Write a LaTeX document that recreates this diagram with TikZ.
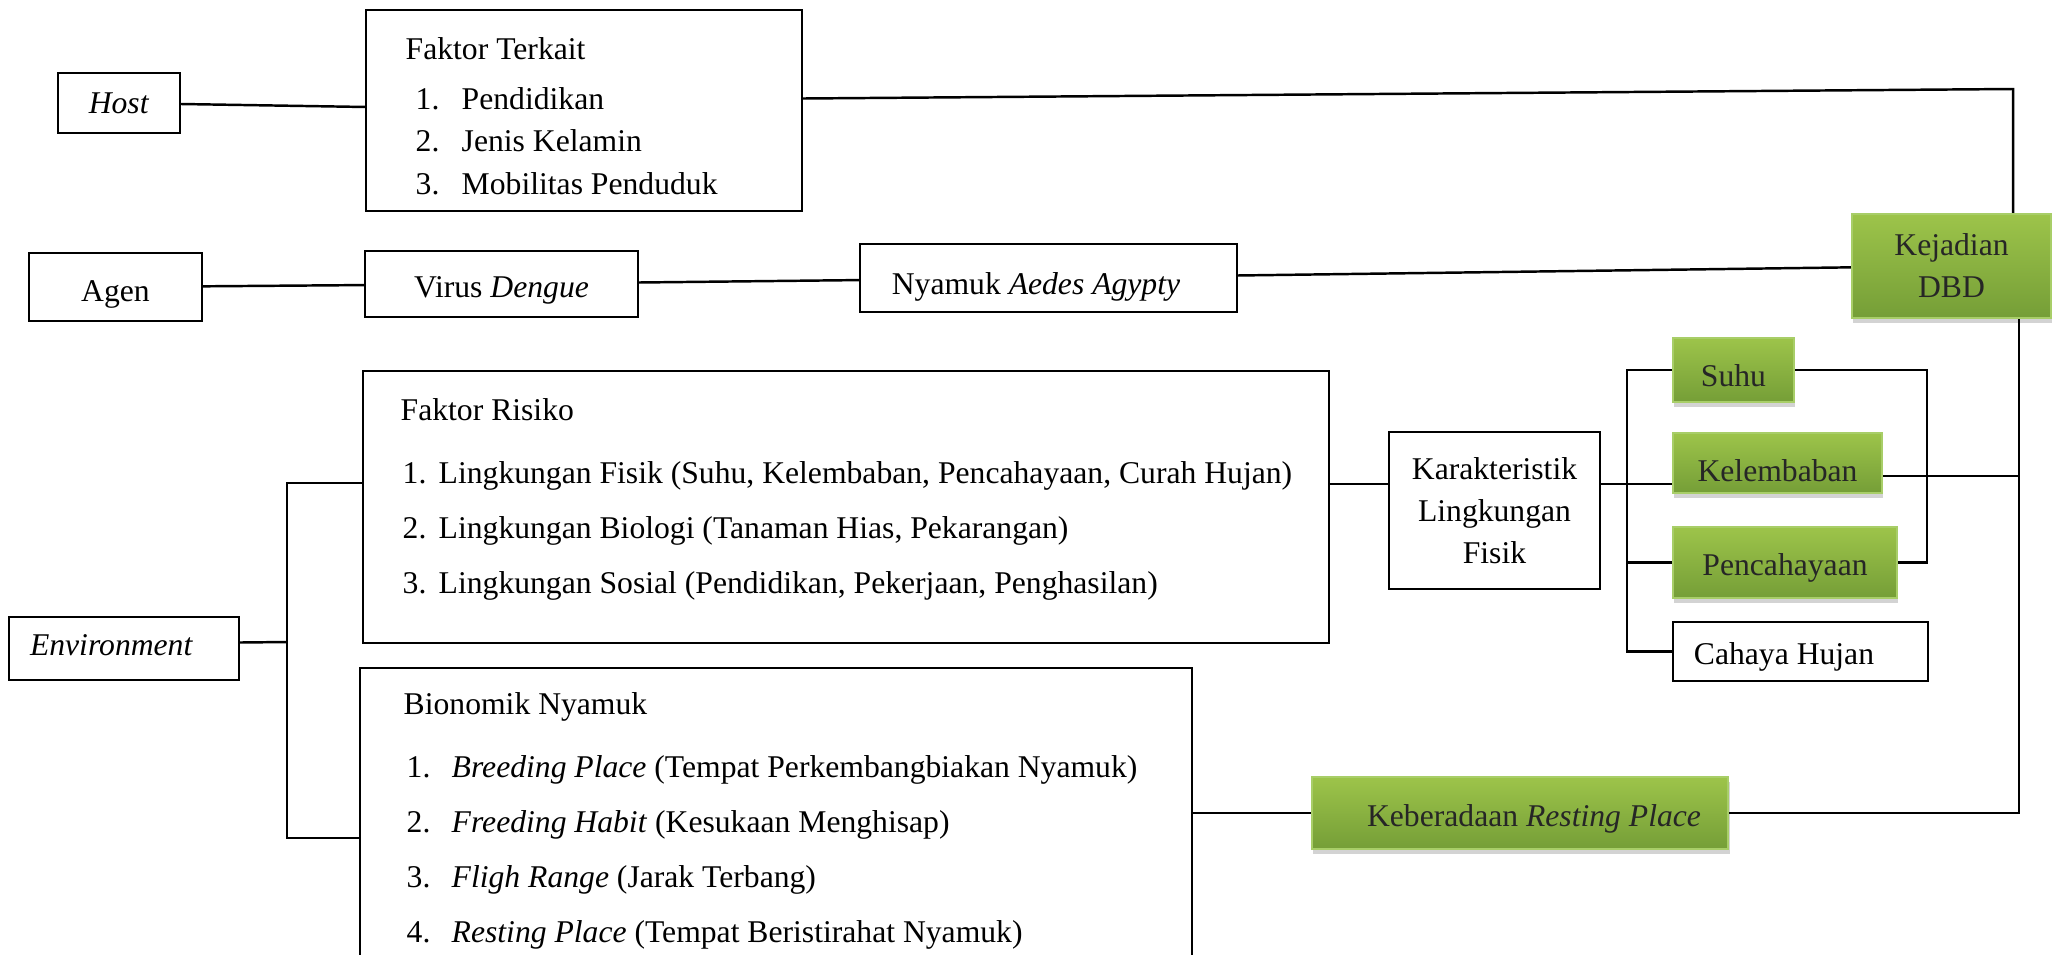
\documentclass[tikz,border=0pt]{standalone}
\usepackage{fontspec}
\setmainfont{Liberation Serif}
\usetikzlibrary{calc,shadows}

\definecolor{hijauatas}{RGB}{157,196,74}
\definecolor{hijaubawah}{RGB}{117,158,55}
\definecolor{hijaugaris}{RGB}{168,206,104}

\begin{document}
\begin{tikzpicture}[x=0.01cm, y=-0.01cm,
	every node/.style={font=\fontsize{9}{11.95}\selectfont},
	kotak/.style={draw, line width=0.6pt, inner sep=0pt},
	hijau/.style={draw=hijaugaris, line width=0.6pt, inner sep=0pt, top color=hijauatas, bottom color=hijaubawah, text=black!85,
		drop shadow={shadow xshift=0.4pt, shadow yshift=-1.3pt, opacity=0.35}},
	satu/.style={text height=7.4pt, text depth=0pt},
	teks/.style={anchor=base west, inner sep=0pt},
	garis/.style={line width=0.7pt}]
			%%%%% START %%%%%
			
			\clip (0,0) rectangle (2057,954);
			
			\node[kotak, satu, text height=5.7pt, minimum width=1.22cm, minimum height=0.60cm] (host) at (119,103) {\textit{Host}};
			\node[kotak, minimum width=4.36cm, minimum height=2.01cm] (ft) at (584,110.5) {};
			\node[teks] (ft0) at (405,59) {Faktor Terkait};
			\node[teks] (ft1) at (415,109) {\makebox[0.46cm][l]{1.}Pendidikan};
			\node[teks] (ft2) at (415,151) {\makebox[0.46cm][l]{2.}Jenis Kelamin};
			\node[teks] (ft3) at (415,194) {\makebox[0.46cm][l]{3.}Mobilitas Penduduk};
			
			\node[kotak, satu, text height=8.5pt, minimum width=1.73cm, minimum height=0.68cm] (agen) at (115.5,287) {Agen};
			\node[kotak, satu, minimum width=2.73cm, minimum height=0.66cm] (virus) at (501.5,284) {Virus \textit{Dengue}};
			\node[kotak, satu, text height=9.6pt, minimum width=3.77cm, minimum height=0.68cm] (nyamuk) at (1048.5,278) {Nyamuk \textit{Aedes Agypty}\hspace*{0.25cm}};
			\node[hijau, align=center, minimum width=1.99cm, minimum height=1.04cm] (dbd) at (1951.5,266) {Kejadian\\DBD};
			
			\node[kotak, minimum width=9.66cm, minimum height=2.72cm] (fr) at (846,507) {};
			\node[teks] (fr0) at (400,420) {Faktor Risiko};
			\node[teks] (fr1) at (402,483) {\makebox[0.36cm][l]{1.}Lingkungan Fisik (Suhu, Kelembaban, Pencahayaan, Curah Hujan)};
			\node[teks] (fr2) at (402,538) {\makebox[0.36cm][l]{2.}Lingkungan Biologi (Tanaman Hias, Pekarangan)};
			\node[teks] (fr3) at (402,593) {\makebox[0.36cm][l]{3.}Lingkungan Sosial (Pendidikan, Pekerjaan, Penghasilan)};
			
			\node[kotak, satu, text height=3.7pt, minimum width=2.30cm, minimum height=0.63cm] (env) at (124,648.5) {\textit{Environment}\hspace*{0.25cm}};
			
			\node[kotak, minimum width=8.32cm, minimum height=3.32cm] (bn) at (776,834) {};
			\node[teks] (bn0) at (403,714) {Bionomik Nyamuk};
			\node[teks] (bn1) at (406,777) {\makebox[0.45cm][l]{1.}\textit{Breeding Place} (Tempat Perkembangbiakan Nyamuk)};
			\node[teks] (bn2) at (406,832) {\makebox[0.45cm][l]{2.}\textit{Freeding Habit} (Kesukaan Menghisap)};
			\node[teks] (bn3) at (406,887) {\makebox[0.45cm][l]{3.}\textit{Fligh Range} (Jarak Terbang)};
			\node[teks] (bn4) at (406,942) {\makebox[0.45cm][l]{4.}\textit{Resting Place} (Tempat Beristirahat Nyamuk)};
			
			\node[kotak, align=center, minimum width=2.11cm, minimum height=1.57cm] (kar) at (1494.5,510.5) {Karakteristik\\Lingkungan\\Fisik};
			\node[hijau, satu, text height=9.6pt, minimum width=1.21cm, minimum height=0.64cm] (suhu) at (1733.5,370) {Suhu};
			\node[hijau, satu, text height=10.8pt, minimum width=2.09cm, minimum height=0.60cm] (lembab) at (1777.5,463) {Kelembaban};
			\node[hijau, satu, minimum width=2.24cm, minimum height=0.71cm] (cahaya) at (1785,562.5) {Pencahayaan};
			\node[kotak, satu, minimum width=2.55cm, minimum height=0.59cm] (hujan) at (1800.5,651.5) {Cahaya Hujan\hspace*{0.33cm}};
			
			\node[hijau, satu, minimum width=4.16cm, minimum height=0.72cm] (rest) at (1520,813) {\hspace*{0.28cm}Keberadaan \textit{Resting Place}};
			
			% garis penghubung
			\coordinate (atas) at (2013,89);
			\coordinate (kiriA) at (287,483);
			\coordinate (kiriB) at (287,838);
			\coordinate (cabang) at (1627,484);
			\coordinate (kanan) at (1927,371);
			\coordinate (sisi) at (2019,476);
			
			\draw[garis] (host) -- (ft);
			\draw[garis] ($(ft.east)+(0,-12)$) -- (atas) -- (atas |- dbd.north);
			
			\draw[garis] (agen) -- (virus);
			\draw[garis] (virus) -- (nyamuk);
			\draw[garis] (nyamuk) -- (dbd);
			
			\draw[garis] ($(env.east)+(0,-6)$) -- (kiriA |- 0,642);
			\draw[garis] (kiriA -| fr.west) -- (kiriA) -- (kiriB) -- (kiriB -| bn.west);
			
			\draw[garis] (fr.east |- cabang) -- (kar.west |- cabang);
			\draw[garis] (kar.east |- cabang) -- (lembab.west |- cabang);
			\draw[garis] (suhu.west) -- (suhu.west -| cabang) -- (cabang |- hujan.west) -- (hujan.west);
			\draw[garis] (cahaya.west) -- (cahaya.west -| cabang);
			
			\draw[garis] (suhu.east) -- (suhu.east -| kanan) -- (kanan |- cahaya.east) -- (cahaya.east);
			\draw[garis] ($(lembab.east)+(0,13)$) -- (sisi);
			\draw[garis] (dbd.south -| sisi) -- (sisi |- rest.east) -- (rest.east);
			\draw[garis] (bn.east |- rest.west) -- (rest.west);
			
			%%%%% END %%%%%
\end{tikzpicture}
\end{document}
